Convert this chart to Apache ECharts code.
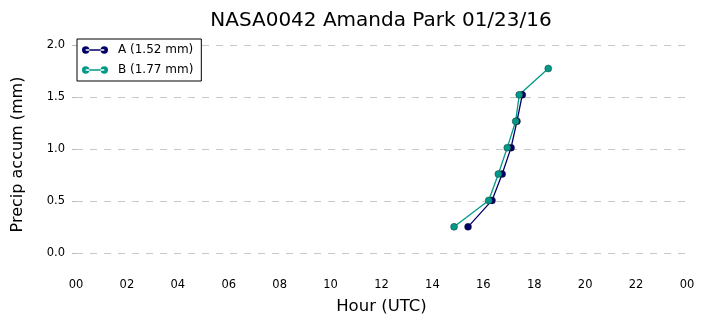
<!DOCTYPE html>
<html>
<head>
<meta charset="utf-8">
<script src="https://cdn.jsdelivr.net/npm/echarts@6/dist/echarts.min.js"></script>
<style>
  html, body { margin: 0; padding: 0; background: #fff; }
  #chart { width: 706px; height: 326px; }
</style>
</head>
<body>
<div id="chart"></div>
<script>
// Accumulated precipitation (mm) against hour of day (UTC)
const accumLevels = [0.254, 0.508, 0.762, 1.016, 1.27, 1.524, 1.778];
const hoursA = [15.40, 16.34, 16.74, 17.09, 17.32, 17.53];
const hoursB = [14.85, 16.21, 16.59, 16.94, 17.27, 17.41, 18.55];
const seriesNames = ['A (1.52 mm)', 'B (1.77 mm)'];
const seriesColors = ['#000066', '#009988'];
const hourTicks = [0, 2, 4, 6, 8, 10, 12, 14, 16, 18, 20, 22, 24];
const accumTicks = [0.0, 0.5, 1.0, 1.5, 2.0];

const pairs = (hrs) => hrs.map((h, i) => [h, accumLevels[i]]);

// Legend glyph: line with a round marker at each end
const legendIcon = 'path://M0,4a4,4 0 1,0 8,0a4,4 0 1,0 -8,0Z M20,4a4,4 0 1,0 8,0a4,4 0 1,0 -8,0Z M4,3.2L24,3.2L24,4.8L4,4.8Z';

const font = 'DejaVu Sans';
const chart = echarts.init(document.getElementById('chart'), null, { renderer: 'canvas' });

const mkSeries = (name, hrs, color) => ({
  name: name,
  type: 'line',
  data: pairs(hrs),
  symbol: 'circle',
  symbolSize: 7,
  showSymbol: true,
  lineStyle: { color: color, width: 1.3 },
  itemStyle: { color: color, borderColor: '#222', borderWidth: 0.4 },
  emphasis: { disabled: true },
  animation: false
});

chart.setOption({
  animation: false,
  backgroundColor: '#fff',
  title: {
    text: 'NASA0042 Amanda Park 01/23/16',
    left: 376, top: 6, textAlign: 'center',
    textStyle: { fontFamily: font, fontSize: 20, fontWeight: 'normal', color: '#000' }
  },
  legend: {
    left: 77, top: 39,
    orient: 'vertical',
    backgroundColor: '#fff',
    borderColor: '#000',
    borderWidth: 1,
    borderRadius: 0,
    padding: [4, 8, 4, 5],
    itemGap: 6,
    itemWidth: 26,
    itemHeight: 7.5,
    icon: legendIcon,
    itemStyle: { borderWidth: 0 },
    textStyle: { fontFamily: font, fontSize: 12, color: '#000', lineHeight: 14, padding: [0, 0, 0, 5] },
    data: seriesNames
  },
  grid: { left: 76, right: 19, top: 35, bottom: 52 },
  xAxis: {
    type: 'value',
    min: 0, max: 24, interval: 2,
    name: 'Hour (UTC)',
    nameLocation: 'middle',
    nameGap: 24,
    nameTextStyle: { fontFamily: font, fontSize: 16.5, color: '#000' },
    axisLine: { show: false },
    axisTick: { show: false },
    splitLine: { show: false },
    axisLabel: {
      fontFamily: font, fontSize: 11.5, color: '#000', margin: 5,
      customValues: hourTicks,
      formatter: (v) => String(Math.round(v) % 24).padStart(2, '0')
    }
  },
  yAxis: {
    type: 'value',
    min: -0.2, max: 2.1,
    name: 'Precip accum (mm)',
    nameLocation: 'middle',
    nameGap: 50,
    nameTextStyle: { fontFamily: font, fontSize: 16, color: '#000' },
    axisLine: { show: false },
    axisTick: { show: true, customValues: accumTicks, length: 4, inside: false, lineStyle: { color: '#bbb' } },
    axisLabel: {
      fontFamily: font, fontSize: 11.5, color: '#000', margin: 11,
      customValues: accumTicks,
      formatter: (v) => v.toFixed(1)
    },
    splitLine: {
      show: true,
      customValues: accumTicks,
      lineStyle: { color: '#c8c8c8', type: [7, 7], width: 1 }
    }
  },
  series: [
    mkSeries(seriesNames[0], hoursA, seriesColors[0]),
    mkSeries(seriesNames[1], hoursB, seriesColors[1])
  ]
});
</script>
</body>
</html>
